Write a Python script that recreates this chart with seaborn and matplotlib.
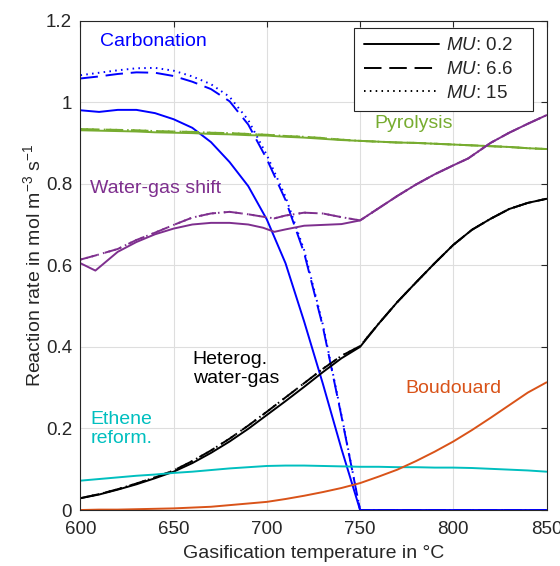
import matplotlib
matplotlib.use('Agg')
import matplotlib.pyplot as plt
from matplotlib.lines import Line2D
import seaborn as sns
import pandas as pd

# temperatures (°C), 10 degree steps
temps = [600, 610, 620, 630, 640, 650, 660, 670, 680, 690, 700, 710, 720,
         730, 740, 750, 760, 770, 780, 790, 800, 810, 820, 830, 840, 850]

carb_02 = [0.980, 0.976, 0.981, 0.981, 0.973, 0.958, 0.937, 0.902, 0.853, 0.794, 0.712, 0.605, 0.462,
           0.310, 0.150, 0.0, 0, 0, 0, 0, 0, 0, 0, 0, 0, 0]
carb_66 = [1.058, 1.063, 1.069, 1.073, 1.072, 1.064, 1.050, 1.032, 1.002, 0.945, 0.860, 0.760, 0.630,
           0.450, 0.230, 0.0, 0, 0, 0, 0, 0, 0, 0, 0, 0, 0]
carb_15 = [1.066, 1.072, 1.078, 1.083, 1.084, 1.077, 1.063, 1.044, 1.013, 0.956, 0.870, 0.768, 0.637,
           0.455, 0.233, 0.0, 0, 0, 0, 0, 0, 0, 0, 0, 0, 0]

pyro_02 = [0.931, 0.930, 0.929, 0.928, 0.926, 0.925, 0.924, 0.922, 0.921, 0.919, 0.918, 0.915, 0.913,
           0.910, 0.907, 0.905, 0.903, 0.901, 0.900, 0.898, 0.896, 0.894, 0.892, 0.890, 0.887, 0.885]
pyro_66 = [0.934, 0.933, 0.932, 0.931, 0.929, 0.928, 0.927, 0.925, 0.924, 0.922, 0.920, 0.917, 0.915,
           0.912, 0.908, 0.905, 0.903, 0.901, 0.900, 0.898, 0.896, 0.894, 0.892, 0.890, 0.887, 0.885]
pyro_15 = pyro_66

het_02 = [0.029, 0.038, 0.050, 0.063, 0.078, 0.094, 0.115, 0.140, 0.168, 0.199, 0.233, 0.267, 0.302,
          0.338, 0.372, 0.400, 0.457, 0.510, 0.558, 0.605, 0.650, 0.687, 0.714, 0.738, 0.753, 0.763]
het_66 = [0.029, 0.039, 0.051, 0.065, 0.080, 0.097, 0.120, 0.146, 0.175, 0.207, 0.241, 0.276, 0.311,
          0.346, 0.378, 0.402, 0.457, 0.510, 0.558, 0.605, 0.650, 0.687, 0.714, 0.738, 0.753, 0.763]
het_15 = het_66

ethene = [0.072, 0.076, 0.080, 0.084, 0.087, 0.091, 0.094, 0.098, 0.102, 0.105, 0.108, 0.109, 0.109,
          0.108, 0.107, 0.106, 0.106, 0.105, 0.105, 0.104, 0.104, 0.103, 0.101, 0.099, 0.097, 0.094]
boudouard = [0.000, 0.001, 0.001, 0.002, 0.003, 0.004, 0.006, 0.008, 0.012, 0.016, 0.020, 0.027, 0.035,
             0.044, 0.054, 0.066, 0.082, 0.099, 0.120, 0.143, 0.168, 0.196, 0.226, 0.257, 0.288, 0.313]

# water-gas shift has its own temperature points (kinks)
temps_wgs = [600, 608, 620, 630, 640, 650, 660, 670, 680, 690, 698, 704, 710, 720,
             730, 740, 750, 760, 770, 780, 790, 800, 808, 820, 830, 840, 850]
wgs_02 = [0.605, 0.587, 0.633, 0.657, 0.676, 0.690, 0.700, 0.704, 0.704, 0.700, 0.692, 0.682, 0.688, 0.697,
          0.699, 0.701, 0.710, 0.740, 0.770, 0.798, 0.823, 0.845, 0.862, 0.900, 0.925, 0.947, 0.968]
wgs_66 = [0.614, 0.624, 0.640, 0.662, 0.680, 0.699, 0.717, 0.727, 0.731, 0.725, 0.719, 0.715, 0.722, 0.729,
          0.727, 0.718, 0.710, 0.740, 0.770, 0.798, 0.823, 0.845, 0.862, 0.900, 0.925, 0.947, 0.968]
wgs_15 = wgs_66

mu_levels = ['0.2', '6.6', '15']
x_ticks = [600, 650, 700, 750, 800, 850]
y_ticks = [0, 0.2, 0.4, 0.6, 0.8, 1.0, 1.2]
y_ticklabels = ['0', '0.2', '0.4', '0.6', '0.8', '1', '1.2']

colors = {
    'Carbonation': '#0000FF',
    'Pyrolysis': '#77AC30',
    'Water-gas shift': '#7E2F8E',
    'Heterog. water-gas': '#000000',
    'Ethene reform.': '#00BFBF',
    'Boudouard': '#D95319',
}

# build long table
rows = []
def add(name, mu, xs, ys):
    for x, y in zip(xs, ys):
        rows.append({'T': x, 'rate': y, 'reaction': name, 'MU': mu})

add('Carbonation', '0.2', temps, carb_02)
add('Carbonation', '6.6', temps, carb_66)
add('Carbonation', '15', temps, carb_15)
add('Pyrolysis', '0.2', temps, pyro_02)
add('Pyrolysis', '6.6', temps, pyro_66)
add('Pyrolysis', '15', temps, pyro_15)
add('Water-gas shift', '0.2', temps_wgs, wgs_02)
add('Water-gas shift', '6.6', temps_wgs, wgs_66)
add('Water-gas shift', '15', temps_wgs, wgs_15)
add('Heterog. water-gas', '0.2', temps, het_02)
add('Heterog. water-gas', '6.6', temps, het_66)
add('Heterog. water-gas', '15', temps, het_15)
add('Ethene reform.', '0.2', temps, ethene)
add('Boudouard', '0.2', temps, boudouard)
df = pd.DataFrame(rows)

sns.set_style('white')
plt.rcParams['font.family'] = ['Liberation Sans', 'DejaVu Sans']
plt.rcParams['mathtext.fontset'] = 'custom'
plt.rcParams['mathtext.rm'] = 'Liberation Sans'
plt.rcParams['mathtext.it'] = 'Liberation Sans:italic'
plt.rcParams['axes.edgecolor'] = '#262626'
plt.rcParams['xtick.color'] = '#262626'
plt.rcParams['ytick.color'] = '#262626'

dash_map = {'0.2': '', '6.6': (9, 4), '15': (0.8, 2.2)}

fig = plt.figure(figsize=(5.6, 5.66), dpi=100)
ax = fig.add_axes([0.1437, 0.0989, 0.8322, 0.8648])

sns.lineplot(data=df, x='T', y='rate', hue='reaction', style='MU',
             palette=colors, dashes=dash_map, style_order=mu_levels,
             estimator=None, sort=False, linewidth=1.4, legend=False, ax=ax)

ax.set_xlim(600, 850)
ax.set_ylim(0, 1.2)
ax.set_xticks(x_ticks)
ax.set_yticks(y_ticks)
ax.set_yticklabels(y_ticklabels)
ax.grid(True, color='#dedede', linewidth=0.8)
ax.tick_params(direction='in', top=True, right=True, length=4, width=0.8,
               labelsize=13.5)
ax.tick_params(axis='x', pad=8)
ax.tick_params(axis='y', pad=6)
for sp in ax.spines.values():
    sp.set_linewidth(0.8)

ax.set_xlabel('Gasification temperature in °C', fontsize=14, color='#262626', labelpad=5)
ax.set_ylabel(r'Reaction rate in mol m$^{-3}$ s$^{-1}$', fontsize=14, color='#262626',
              labelpad=1.5)

# labels for the reactions
fs = 14
ax.text(610.3, 1.148, 'Carbonation', color=colors['Carbonation'], fontsize=fs, va='center')
ax.text(757.5, 0.948, 'Pyrolysis', color=colors['Pyrolysis'], fontsize=fs, va='center')
ax.text(605.2, 0.789, 'Water-gas shift', color=colors['Water-gas shift'], fontsize=fs, va='center')
ax.text(660.2, 0.346, 'Heterog.\nwater-gas', color='black', fontsize=fs, va='center')
ax.text(605.2, 0.199, 'Ethene\nreform.', color=colors['Ethene reform.'], fontsize=fs, va='center')
ax.text(774.5, 0.299, 'Boudouard', color=colors['Boudouard'], fontsize=fs, va='center')

handles = [Line2D([], [], color='black', lw=1.4, linestyle='-'),
           Line2D([], [], color='black', lw=1.4, linestyle=(0, (9, 4))),
           Line2D([], [], color='black', lw=1.4, linestyle=(0, (0.8, 2.2)))]
labels = [r'$\mathit{MU}$: ' + m + '   ' for m in mu_levels]
leg = ax.legend(handles, labels, loc='upper right', bbox_to_anchor=(0.972, 0.985),
                borderaxespad=0, fontsize=13.5, handlelength=4, fancybox=False,
                framealpha=1, edgecolor='#262626', labelspacing=0.35, handletextpad=0.4,
                borderpad=0.5)
leg.get_frame().set_linewidth(0.8)

fig.savefig('out.png', dpi=100)
